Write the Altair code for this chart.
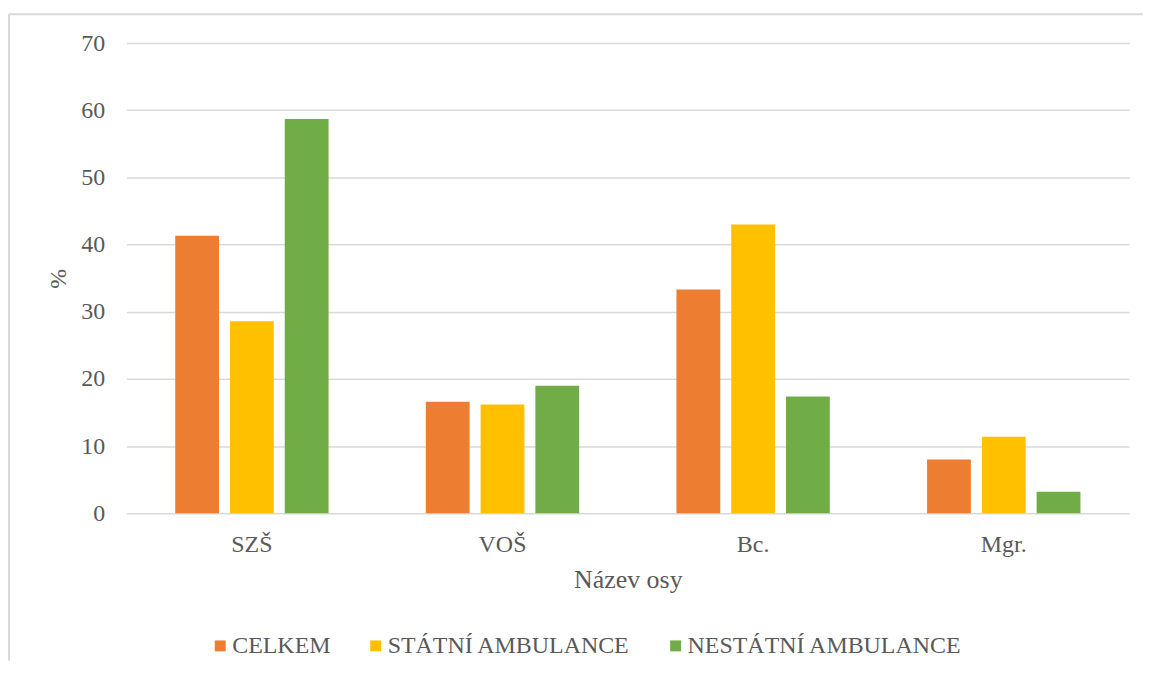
import altair as alt
import pandas as pd

categories = ["SZŠ", "VOŠ", "Bc.", "Mgr."]
series = ["CELKEM", "STÁTNÍ AMBULANCE", "NESTÁTNÍ AMBULANCE"]
celkem = [41.3, 16.6, 33.3, 8.0]
statni = [28.6, 16.2, 43.0, 11.4]
nestatni = [58.7, 19.0, 17.4, 3.2]
colors = ["#ED7D31", "#FFC000", "#70AD47"]

rows = []
for vals, s in zip([celkem, statni, nestatni], series):
    for c, v in zip(categories, vals):
        rows.append({"kategorie": c, "serie": s, "hodnota": v})
df = pd.DataFrame(rows)

FONT = "'Times New Roman', 'Liberation Serif', serif"
GRAY = "#595959"

bars = alt.Chart(df).mark_bar().encode(
    x=alt.X("kategorie:N", sort=categories,
            scale=alt.Scale(paddingInner=0.388, paddingOuter=0.194),
            axis=alt.Axis(title="Název osy", labelAngle=0, labelFontSize=24,
                          titleFontSize=26, labelFont=FONT, titleFont=FONT,
                          labelColor=GRAY, titleColor=GRAY, titleFontWeight="normal",
                          ticks=False, domain=False, grid=False, labelPadding=19,
                          titlePadding=10)),
    xOffset=alt.XOffset("serie:N", sort=series,
                        scale=alt.Scale(paddingInner=0.2, paddingOuter=0)),
    y=alt.Y("hodnota:Q", scale=alt.Scale(domain=[0, 70]),
            axis=alt.Axis(title="%", values=list(range(0, 71, 10)), labelFontSize=24,
                          titleFontSize=24, labelFont=FONT, titleFont=FONT,
                          labelColor=GRAY, titleColor=GRAY, titleFontWeight="normal",
                          ticks=False, domain=False, gridColor="#d9d9d9", gridWidth=1.5,
                          labelPadding=22, titlePadding=10)),
    color=alt.Color("serie:N", sort=series,
                    scale=alt.Scale(domain=series, range=colors),
                    legend=alt.Legend(title=None, orient="none", direction="horizontal",
                                      legendX=82, legendY=593, symbolType="square",
                                      symbolSize=121, symbolStrokeWidth=0,
                                      labelFontSize=24, labelFont=FONT, labelColor=GRAY,
                                      labelOffset=0, columnPadding=33,
                                      labelLimit=400)),
)

one = pd.DataFrame({"a": [0]})
top_line = alt.Chart(one).mark_rule(color="#d9d9d9", strokeWidth=2).encode(
    x=alt.value(-118), x2=alt.value(1020), y=alt.value(-29)
)
left_line = alt.Chart(one).mark_rule(color="#d9d9d9", strokeWidth=2).encode(
    x=alt.value(-118), y=alt.value(-29), y2=alt.value(620)
)

chart = alt.layer(top_line, left_line, bars).properties(
    width=1006, height=472,
    background="white",
    autosize=alt.AutoSizeParams(type="none"),
    padding={"left": 119, "top": 34, "right": 14, "bottom": 148},
).configure_view(stroke=None)

chart.save("out.html", embed_options={"renderer": "svg", "actions": False})
